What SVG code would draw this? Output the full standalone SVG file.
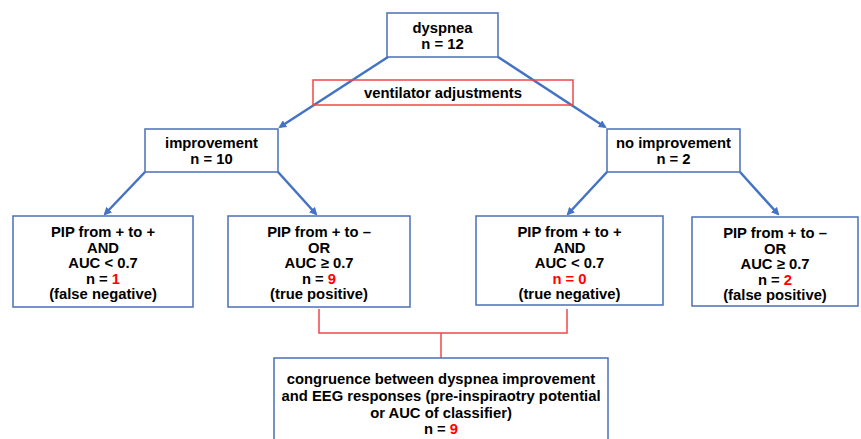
<svg xmlns="http://www.w3.org/2000/svg" width="861" height="439" viewBox="0 0 861 439">
<defs>
<style>
.box{fill:#fff;stroke:#4a6fb8;stroke-width:1.5}
.rbox{fill:none;stroke:#f0464b;stroke-width:1.5}
.arr{stroke:#4472c4;stroke-width:2.5;fill:none;marker-end:url(#ah)}
.rl{stroke:#f0464b;stroke-width:1.5;fill:none}
text{font-family:"Liberation Sans",Arial,sans-serif;font-weight:bold;font-size:14.8px;fill:#000;text-anchor:middle}
.red{fill:#ff0000}
</style>
<marker id="ah" markerWidth="8" markerHeight="8" refX="6" refY="4" orient="auto" markerUnits="userSpaceOnUse" viewBox="0 0 8 8">
<path d="M0,0 L8,4 L0,8 z" fill="#4472c4"/>
</marker>
</defs>
<g id="connectors">
<line class="arr" x1="388" y1="57" x2="280" y2="127"/>
<line class="arr" x1="498" y1="57" x2="605" y2="127"/>
<line class="arr" x1="145" y1="172" x2="105" y2="214"/>
<line class="arr" x1="278" y1="172" x2="316" y2="214"/>
<line class="arr" x1="607" y1="172" x2="568" y2="214"/>
<line class="arr" x1="740" y1="172" x2="778" y2="214"/>
<polyline class="rl" points="319,309 319,333 567,333 567,309"/>
<line class="rl" x1="441" y1="333" x2="441" y2="358"/>
</g>
<g id="dyspnea">
<rect class="box" x="387" y="13" width="111" height="44"/>
<text x="442.5" y="33">dyspnea</text>
<text x="442.5" y="49">n = 12</text>
</g>
<g id="ventilator">
<rect class="rbox" x="313" y="80" width="260" height="25"/>
<text x="443" y="98">ventilator adjustments</text>
</g>
<g id="improvement">
<rect class="box" x="145" y="129" width="133" height="43"/>
<text x="211.5" y="148">improvement</text>
<text x="211.5" y="164">n = 10</text>
</g>
<g id="noimprovement">
<rect class="box" x="607" y="129" width="133" height="43"/>
<text x="673.5" y="148">no improvement</text>
<text x="673.5" y="164">n = 2</text>
</g>
<g id="falsenegative">
<rect class="box" x="13" y="216" width="180" height="91"/>
<text x="103" y="237">PIP from + to +</text>
<text x="103" y="253">AND</text>
<text x="103" y="268">AUC &lt; 0.7</text>
<text x="103" y="284">n = <tspan class="red">1</tspan></text>
<text x="103" y="299">(false negative)</text>
</g>
<g id="truepositive">
<rect class="box" x="228" y="216" width="182" height="91"/>
<text x="319" y="237">PIP from + to –</text>
<text x="319" y="253">OR</text>
<text x="319" y="268">AUC ≥ 0.7</text>
<text x="319" y="284">n = <tspan class="red">9</tspan></text>
<text x="319" y="299">(true positive)</text>
</g>
<g id="truenegative">
<rect class="box" x="476" y="216" width="187" height="89"/>
<text x="569.5" y="237">PIP from + to +</text>
<text x="569.5" y="253">AND</text>
<text x="569.5" y="268">AUC &lt; 0.7</text>
<text x="569.5" y="284" class="red">n = 0</text>
<text x="569.5" y="299">(true negative)</text>
</g>
<g id="falsepositive">
<rect class="box" x="692" y="217" width="166" height="89"/>
<text x="775" y="238">PIP from + to –</text>
<text x="775" y="254">OR</text>
<text x="775" y="269">AUC ≥ 0.7</text>
<text x="775" y="285">n = <tspan class="red">2</tspan></text>
<text x="775" y="300">(false positive)</text>
</g>
<g id="congruence">
<rect class="box" x="274" y="358" width="334" height="90"/>
<text x="441" y="384">congruence between dyspnea improvement</text>
<text x="441" y="401">and EEG responses (pre-inspiraotry potential</text>
<text x="441" y="418">or AUC of classifier)</text>
<text x="441" y="434">n = <tspan class="red">9</tspan></text>
</g>
</svg>
